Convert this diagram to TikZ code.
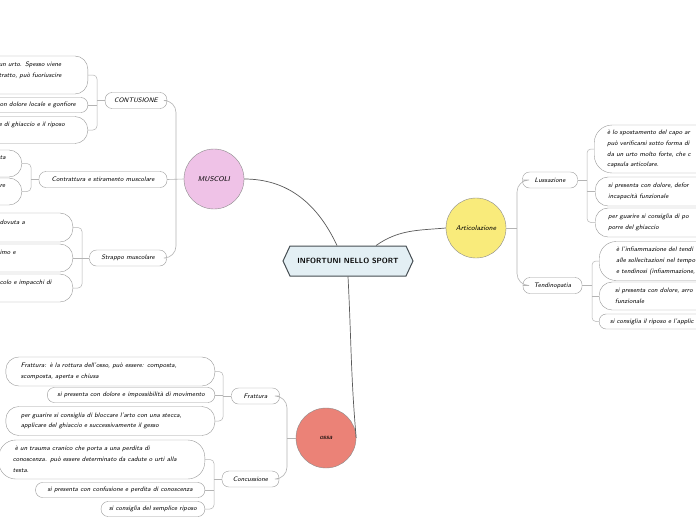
\documentclass[tikz,border=0pt]{standalone}
\usepackage{tikz}
\usetikzlibrary{shapes.symbols}

\definecolor{titleblue}{HTML}{E3EFF4}
\definecolor{titleedge}{HTML}{454D52}
\definecolor{muscpink}{HTML}{EFC2E7}
\definecolor{artyellow}{HTML}{F9EB7B}
\definecolor{ossared}{HTML}{EB8277}
\definecolor{circedge}{HTML}{8C8C8C}
\definecolor{boxedge}{HTML}{9A9A9A}
\definecolor{mainedge}{HTML}{5A5A5A}
\definecolor{subedge}{HTML}{B4B4B4}

\tikzset{
	smallfont/.style={font=\fontsize{6.5}{10.8}\selectfont\sffamily\itshape},
	leaf/.style={draw=boxedge, fill=white, rounded corners=7pt, inner xsep=10pt, inner ysep=2.5pt, minimum height=15pt, smallfont, align=left},
	bigleaf/.style={leaf, rounded corners=13pt, inner xsep=13pt},
	branch/.style={draw=boxedge, fill=white, rounded corners=7pt, minimum height=16pt, inner xsep=9pt, smallfont},
	topic/.style={circle, draw=circedge, minimum size=60pt, inner sep=0pt, font=\fontsize{7}{8}\selectfont\sffamily\itshape},
	mainline/.style={draw=mainedge, line width=0.7pt},
	subline/.style={draw=subedge, line width=0.6pt},
	leafline/.style={draw=subedge, line width=0.5pt}
}

\begin{document}
\begin{tikzpicture}[x=1pt, y=1pt]
			\useasboundingbox (0,0) rectangle (696,-520);
			\clip (0,0) rectangle (696,-520);
			\fill[white] (0,0) rectangle (696,-520);

			% centre and topics
			\node (root) [signal, signal to=west and east, signal pointer angle=130, draw=titleedge, fill=titleblue, line width=1pt, minimum width=130pt, minimum height=30pt, font=\fontsize{7.5}{9}\selectfont\sffamily\bfseries] at (348,-261) {INFORTUNI NELLO SPORT};
			\node (mus) [topic, fill=muscpink] at (214,-179) {MUSCOLI};
			\node (art) [topic, fill=artyellow] at (476,-228) {Articolazione};
			\node (ossa) [topic, fill=ossared] at (326,-438) {ossa};

			\draw[mainline] ([xshift=-11pt]root.north) to[out=115, in=0] (mus.east);
			\draw[mainline] ([xshift=28pt]root.north) to[out=35, in=185] (art.west);
			\draw[mainline] (root.south) to[out=-87, in=95] (ossa.east);

			% MUSCOLI
			\node (contu) [branch] at (136,-100.5) {CONTUSIONE};
			\node (contr) [branch, minimum width=128pt] at (103,-179.5) {Contrattura e stiramento muscolare};
			\node (strap) [branch, minimum width=77pt] at (128,-258) {Strappo muscolare};
			\coordinate (mj) at (176,-179.5);
			\path (mus.west) edge [subline] (contr.east);
			\draw[subline, rounded corners=12pt] (contu.east) -| (mj) |- (strap.east);

			\node (ct1) [bigleaf, anchor=east, text width=76pt, minimum height=38pt] at (88,-75) {un urto. Spesso viene\\tratto, può fuoriuscire\\\mbox{}};
			\node (ct2) [leaf, anchor=east, inner xsep=12pt] at (88,-105) {con dolore locale e gonfiore};
			\node (ct3) [bigleaf, anchor=east, text width=76pt, minimum height=27pt] at (88,-130) {e di ghiaccio e il riposo\\\mbox{}};
			\coordinate (ctj) at (97,-100.5);
			\draw[leafline, rounded corners=4pt] (ct1.east) -| (ctj) |- (ct3.east);
			\path (ct2.east) edge [leafline] (ct2.east -| ctj);
			\path (ctj) edge [leafline] (contu.west);

			\node (cs1) [bigleaf, anchor=east, text width=9pt, minimum height=27pt] at (22,-163.5) {ta\\\mbox{}};
			\node (cs2) [bigleaf, anchor=east, text width=9pt, minimum height=27pt] at (22,-191.5) {re\\\mbox{}};
			\coordinate (csj) at (31,-179.5);
			\draw[leafline, rounded corners=4pt] (cs1.east) -| (csj) |- (cs2.east);
			\path (csj) edge [leafline] (contr.west);

			\node (st1) [bigleaf, anchor=east, text width=60pt, minimum height=29pt] at (73,-227.5) {dovuta a\\\mbox{}};
			\node (st2) [bigleaf, anchor=east, text width=60pt, minimum height=28pt] at (73,-258) {imo e\\\mbox{}};
			\node (st3) [bigleaf, anchor=east, text width=60pt, minimum height=28pt] at (73,-288) {colo e impacchi di\\\mbox{}};
			\coordinate (stj) at (82,-258);
			\draw[leafline, rounded corners=4pt] (st1.east) -| (stj) |- (st3.east);
			\path (st2.east) edge [leafline] (stj);
			\path (stj) edge [leafline] (strap.west);

			% Articolazione
			\node (luss) [branch, minimum width=55pt] at (550,-180) {Lussazione};
			\node (tend) [branch, minimum width=59pt] at (552.5,-285.5) {Tendinopatia};
			\coordinate (aj) at (517,-228);
			\path (art.east) edge [subline] (aj);
			\draw[subline, rounded corners=12pt] (luss.west) -| (aj) |- (tend.west);

			\node (lu1) [bigleaf, anchor=west, text width=150pt, minimum height=48pt, rounded corners=18pt] at (594,-149) {è lo spostamento del capo ar\\può verificarsi sotto forma di\\da un urto molto forte, che c\\capsula articolare.};
			\node (lu2) [bigleaf, anchor=west, text width=150pt, minimum height=29pt] at (595,-191.5) {si presenta con dolore, defor\\incapacità funzionale};
			\node (lu3) [bigleaf, anchor=west, text width=150pt, minimum height=29pt] at (595,-222.5) {per guarire si consiglia di po\\porre del ghiaccio};
			\coordinate (luj) at (587,-180);
			\draw[leafline, rounded corners=4pt] (lu1.west) -| (luj) |- (lu3.west);
			\path (lu2.west) edge [leafline] (lu2.west -| luj);
			\path (luss.east) edge [leafline] (luj);

			\node (te1) [bigleaf, anchor=west, text width=150pt, minimum height=39pt, inner xsep=17pt, rounded corners=17pt] at (599,-261) {è l'infiammazione del tendi\\alle sollecitazioni nel tempo\\e tendinosi (infiammazione,};
			\node (te2) [bigleaf, anchor=west, text width=150pt, minimum height=28pt, inner xsep=16pt] at (599,-296) {si presenta con dolore, arro\\funzionale};
			\node (te3) [leaf, anchor=west, text width=150pt, inner xsep=11pt] at (599,-321.5) {si consiglia il riposo e l'applic};
			\coordinate (tej) at (592,-285.5);
			\draw[leafline, rounded corners=4pt] (te1.west) -| (tej) |- (te3.west);
			\path (te2.west) edge [leafline] (te2.west -| tej);
			\path (tend.east) edge [leafline] (tej);

			% ossa
			\node (frat) [branch, minimum width=48pt] at (255.5,-396) {Frattura};
			\node (conc) [branch, minimum width=57pt] at (250.5,-479) {Concussione};
			\coordinate (oj) at (287,-438);
			\path (ossa.west) edge [subline] (oj);
			\draw[subline, rounded corners=12pt] (frat.east) -| (oj) |- (conc.east);

			\node (fr1) [bigleaf, anchor=east, text width=179pt, minimum height=29pt, inner xsep=15pt] at (215,-371.5) {Frattura: è la rottura dell'osso, può essere: composta,\\scomposta, aperta e chiusa};
			\node (fr2) [leaf, anchor=east] at (215,-395) {si presenta con dolore e impossibilità di movimento};
			\node (fr3) [bigleaf, anchor=east, text width=179pt, minimum height=29pt, inner xsep=15pt] at (215,-421) {per guarire si consiglia di bloccare l'arto con una stecca,\\applicare del ghiaccio e successivamente il gesso};
			\coordinate (frj) at (223,-396);
			\draw[leafline, rounded corners=4pt] (fr1.east) -| (frj) |- (fr3.east);
			\path (fr2.east) edge [leafline] (fr2.east -| frj);
			\path (frj) edge [leafline] (frat.west);

			\node (co1) [bigleaf, anchor=east, text width=178pt, minimum height=39pt, inner xsep=14pt, rounded corners=17pt] at (205,-459.5) {\ è un trauma cranico che porta a una perdita di\\conoscenza. può essere determinato da cadute o urti alla\\testa.};
			\node (co2) [leaf, anchor=east, inner xsep=12pt] at (205,-490) {si presenta con confusione e perdita di conoscenza};
			\node (co3) [leaf, anchor=east, inner xsep=8pt] at (205,-509) {si consiglia del semplice riposo};
			\coordinate (coj) at (214,-479);
			\draw[leafline, rounded corners=4pt] (co1.east) -| (coj) |- (co3.east);
			\path (co2.east) edge [leafline] (co2.east -| coj);
			\path (coj) edge [leafline] (conc.west);
\end{tikzpicture}
\end{document}
